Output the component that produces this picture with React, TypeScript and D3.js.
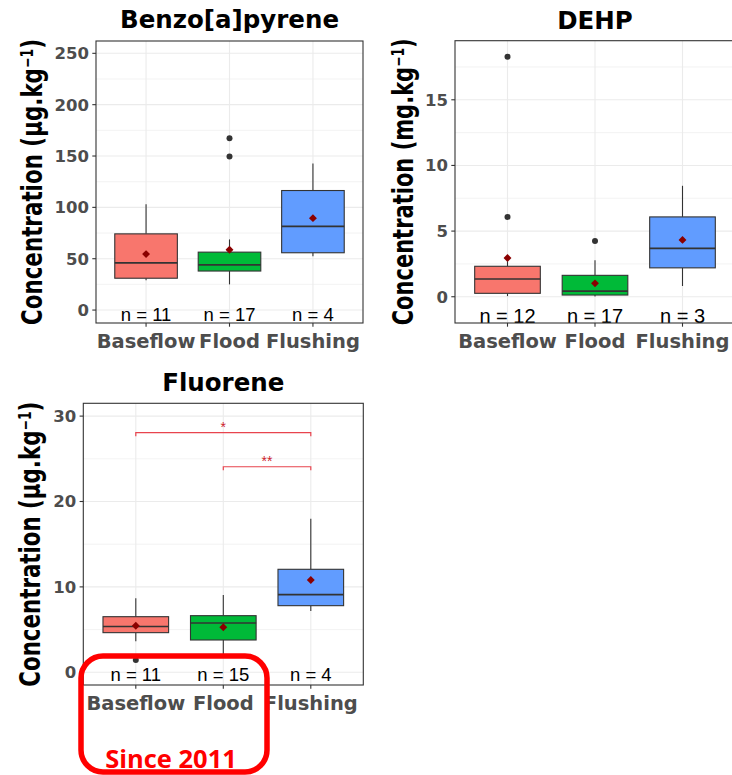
import { useLayoutEffect, useRef, useState } from "react";
import * as d3 from "d3";

const groups = ["Baseflow", "Flood", "Flushing"];
const groupFill = ["#F8766D", "#00BA38", "#619CFF"];

// Benzo[a]pyrene (µg.kg-1)
const bapLow = [29, 25, 52.5];
const bapQ1 = [31, 38, 55.8];
const bapMedian = [46, 44, 81.4];
const bapQ3 = [74.2, 56.4, 116.4];
const bapHigh = [103, 68.8, 142.7];
const bapMean = [54.5, 58.7, 89.5];
const bapOutliers = [[], [149.5, 167.3], []];
const bapN = [11, 17, 4];
const bapTicks = [0, 50, 100, 150, 200, 250];

// DEHP (mg.kg-1)
const dehpLow = [0.05, 0.02, 0.82];
const dehpQ1 = [0.26, 0.13, 2.2];
const dehpMedian = [1.35, 0.43, 3.69];
const dehpQ3 = [2.32, 1.63, 6.08];
const dehpHigh = [2.7, 2.78, 8.45];
const dehpMean = [2.95, 1.02, 4.33];
const dehpOutliers = [[6.08, 18.27], [4.25], []];
const dehpN = [12, 17, 3];
const dehpTicks = [0, 5, 10, 15];

// Fluorene (µg.kg-1)
const fluLow = [3.63, 1.9, 7.18];
const fluQ1 = [4.64, 3.78, 7.8];
const fluMedian = [5.36, 5.77, 9.09];
const fluQ3 = [6.51, 6.63, 12.06];
const fluHigh = [8.66, 9.05, 17.99];
const fluMean = [5.44, 5.27, 10.8];
const fluOutliers = [[1.44], [], []];
const fluN = [11, 15, 4];
const fluTicks = [0, 10, 20, 30];

// significance brackets (Fluorene)
const sigFrom = ["Baseflow", "Flood"];
const sigTo = ["Flushing", "Flushing"];
const sigY = [28.06, 24.07];
const sigStars = ["*", "**"];

const BOLD = "'DejaVu Sans', sans-serif";
const PLAIN = "'Liberation Sans', Arial, sans-serif";

const panels = [
  {
    title: "Benzo[a]pyrene", unit: "µg.kg",
    low: bapLow, q1: bapQ1, median: bapMedian, q3: bapQ3, high: bapHigh,
    mean: bapMean, outliers: bapOutliers, n: bapN, ticks: bapTicks,
    domain: [-12.6, 262], left: 96, right: 363, top: 41, bottom: 323,
    titleY: 28, yTitleX: 41.5, yTitleLen: 286, nSize: 18.5, nOffset: 2.5, sig: false,
  },
  {
    title: "DEHP", unit: "mg.kg",
    low: dehpLow, q1: dehpQ1, median: dehpMedian, q3: dehpQ3, high: dehpHigh,
    mean: dehpMean, outliers: dehpOutliers, n: dehpN, ticks: dehpTicks,
    domain: [-2.0, 19.5], left: 455, right: 735, top: 40.7, bottom: 323,
    titleY: 29.3, yTitleX: 413, yTitleLen: 287, nSize: 20, nOffset: 0, sig: false,
  },
  {
    title: "Fluorene", unit: "µg.kg",
    low: fluLow, q1: fluQ1, median: fluMedian, q3: fluQ3, high: fluHigh,
    mean: fluMean, outliers: fluOutliers, n: fluN, ticks: fluTicks,
    domain: [-1.49, 31.5], left: 83.3, right: 363.3, top: 403.3, bottom: 685,
    titleY: 390.7, yTitleX: 40, yTitleLen: 285, nSize: 18.5, nOffset: 4, sig: true,
  },
];

// rotated axis title, squeezed along its length to fit the panel height
const YTitle = ({ x, y, unit, len }: { x: number; y: number; unit: string; len: number }) => {
  const ref = useRef<SVGTextElement>(null);
  const [k, setK] = useState(0.73);
  useLayoutEffect(() => {
    if (ref.current) {
      const natural = ref.current.getComputedTextLength();
      if (natural > 0) setK(len / natural);
    }
  }, [len, unit]);
  return (
    <text
      ref={ref}
      transform={`translate(${x},${y}) rotate(-90) scale(${k},1)`}
      textAnchor="middle"
      fontFamily={BOLD}
      fontWeight="bold"
      fontSize={29}
      fill="#000"
    >
      {`Concentration (${unit}`}
      <tspan dy={-9} fontSize={17}>
        −1
      </tspan>
      <tspan dy={9}>)</tspan>
    </text>
  );
};

const BoxPanel = ({ p }: { p: any }) => {
  const x = d3.scalePoint<string>().domain(groups).range([p.left, p.right]).padding(0.6);
  const y = d3.scaleLinear().domain(p.domain).range([p.bottom, p.top]);
  const bw = x.step() * 0.75;
  const gap = p.ticks[1] - p.ticks[0];
  const minor = d3
    .range(p.ticks[0] - gap / 2, p.domain[1], gap)
    .filter((v) => v > p.domain[0]);
  const diamond = d3.symbol(d3.symbolDiamond2 ?? d3.symbolDiamond, 40)()!;
  const cx = (p.left + p.right) / 2;
  const cy = (p.top + p.bottom) / 2;

  return (
    <g>
      <rect x={p.left} y={p.top} width={p.right - p.left} height={p.bottom - p.top} fill="#fff" />
      {minor.map((v) => (
        <line key={"mi" + v} x1={p.left} x2={p.right} y1={y(v)} y2={y(v)} stroke="#ebebeb" strokeWidth={0.6} />
      ))}
      {p.ticks.map((v: number) => (
        <line key={"ma" + v} x1={p.left} x2={p.right} y1={y(v)} y2={y(v)} stroke="#ebebeb" strokeWidth={1.1} />
      ))}
      {groups.map((g) => (
        <line key={"vg" + g} x1={x(g)} x2={x(g)} y1={p.top} y2={p.bottom} stroke="#ebebeb" strokeWidth={1.1} />
      ))}

      {p.sig &&
        sigY.map((v, i) => {
          const x1 = x(sigFrom[i])!;
          const x2 = x(sigTo[i])!;
          const yy = y(v);
          return (
            <g key={"sig" + i}>
              <path
                d={`M${x1},${yy + 3.5}V${yy}H${x2}V${yy + 3.5}`}
                fill="none"
                stroke="#e8444e"
                strokeWidth={1.2}
              />
              <text x={(x1 + x2) / 2} y={yy - 1} textAnchor="middle" fontFamily={PLAIN} fontSize={14} fill="#cc1f2d">
                {sigStars[i]}
              </text>
            </g>
          );
        })}

      {groups.map((g, i) => {
        const gx = x(g)!;
        return (
          <g key={"box" + g}>
            <line x1={gx} x2={gx} y1={y(p.q3[i])} y2={y(p.high[i])} stroke="#333" strokeWidth={1.1} />
            <line x1={gx} x2={gx} y1={y(p.q1[i])} y2={y(p.low[i])} stroke="#333" strokeWidth={1.1} />
            <rect
              x={gx - bw / 2}
              y={y(p.q3[i])}
              width={bw}
              height={y(p.q1[i]) - y(p.q3[i])}
              fill={groupFill[i]}
              stroke="#333"
              strokeWidth={1.1}
            />
            <line
              x1={gx - bw / 2}
              x2={gx + bw / 2}
              y1={y(p.median[i])}
              y2={y(p.median[i])}
              stroke="#333"
              strokeWidth={1.7}
            />
            {p.outliers[i].map((o: number) => (
              <circle key={"o" + o} cx={gx} cy={y(o)} r={3} fill="#333" />
            ))}
            <path d={diamond} transform={`translate(${gx},${y(p.mean[i])})`} fill="#8B0000" />
          </g>
        );
      })}

      {groups.map((g, i) => (
        <text
          key={"n" + g}
          x={x(g)}
          y={p.bottom - p.nOffset}
          textAnchor="middle"
          fontFamily={PLAIN}
          fontSize={p.nSize}
          fill="#000"
        >
          {`n = ${p.n[i]}`}
        </text>
      ))}

      <rect
        x={p.left}
        y={p.top}
        width={p.right - p.left}
        height={p.bottom - p.top}
        fill="none"
        stroke="#333"
        strokeWidth={1.1}
      />

      {p.ticks.map((v: number) => (
        <g key={"yt" + v}>
          <line x1={p.left - 3.7} x2={p.left} y1={y(v)} y2={y(v)} stroke="#333" strokeWidth={1.1} />
          <text
            x={p.left - 7}
            y={y(v)}
            dy="0.36em"
            textAnchor="end"
            fontFamily={BOLD}
            fontWeight="bold"
            fontSize={16.5}
            fill="#4d4d4d"
          >
            {v}
          </text>
        </g>
      ))}
      {groups.map((g) => (
        <g key={"xt" + g}>
          <line x1={x(g)} x2={x(g)} y1={p.bottom} y2={p.bottom + 3.7} stroke="#333" strokeWidth={1.1} />
          <text
            x={x(g)}
            y={p.bottom + 25}
            textAnchor="middle"
            fontFamily={BOLD}
            fontWeight="bold"
            fontSize={19.5}
            fill="#4d4d4d"
          >
            {g}
          </text>
        </g>
      ))}

      <text x={cx} y={p.titleY} textAnchor="middle" fontFamily={BOLD} fontWeight="bold" fontSize={24.5} fill="#000">
        {p.title}
      </text>
      <YTitle x={p.yTitleX} y={cy} unit={p.unit} len={p.yTitleLen} />
    </g>
  );
};

const App = () => {
  return (
    <svg
      width={732}
      height={775}
      style={{ position: "absolute", left: 0, top: 0, background: "#fff" }}
    >
      {panels.map((p) => (
        <BoxPanel key={p.title} p={p} />
      ))}
      <rect x={81} y={656} width={186} height={116} rx={22} fill="none" stroke="#ff0000" strokeWidth={5.5} />
      <text
        x={171}
        y={768}
        textAnchor="middle"
        fontFamily="'Open Sans', sans-serif"
        fontWeight="bold"
        fontSize={25.5}
        fill="#ff0000"
      >
        Since 2011
      </text>
    </svg>
  );
};

export default App;
